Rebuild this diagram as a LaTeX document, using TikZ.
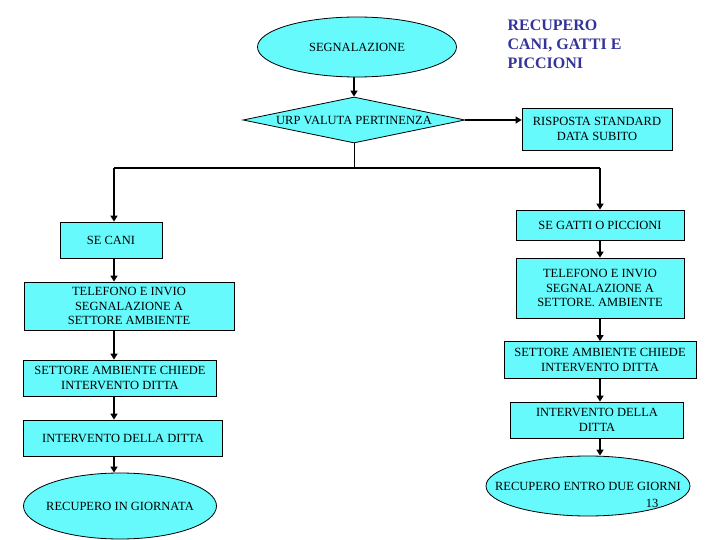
\documentclass[tikz,border=0pt]{standalone}
\usepackage{fontspec}
\setmainfont{Liberation Serif}
\usetikzlibrary{shapes.geometric,arrows.meta}
\definecolor{boxcyan}{RGB}{102,250,252}
\definecolor{titleblue}{RGB}{51,51,153}
\tikzset{
  txt/.style={align=center, font=\fontsize{12.5}{14.5}\selectfont},
  base/.style={draw=black, line width=0.8pt, fill=boxcyan, inner sep=0pt, txt},
  proc/.style={base, rectangle},
  term/.style={base, ellipse},
  decis/.style={base, diamond},
  flow/.style={line width=2pt, -{Triangle[length=6pt,width=7pt]}},
  trunk/.style={line width=1.4pt},
  thin/.style={line width=1pt},
}
\begin{document}
\begin{tikzpicture}[x=1pt,y=-1pt]
\useasboundingbox (0,0) rectangle (720,540);
\fill[white] (0,0) rectangle (720,540);

% top
\node[term, minimum width=199pt, minimum height=60pt, label={[txt]center:SEGNALAZIONE}] (seg) at (357,47) {};
\node[decis, minimum width=222pt, minimum height=46pt, aspect=4.8] (urp) at (354,120) {URP VALUTA PERTINENZA};
\node[proc, minimum width=150pt, minimum height=42pt] (risp) at (597,129) {RISPOSTA STANDARD\\DATA SUBITO};
\node[anchor=north west, align=left, text=titleblue, font=\fontsize{16}{19}\selectfont\bfseries] (title) at (504,16) {RECUPERO\\CANI, GATTI E\\PICCIONI};

% columns
\coordinate (colL) at (114,0);
\coordinate (colR) at (600,0);
\coordinate (split) at (354,168);

% left column
\node[proc, minimum width=102pt, minimum height=36pt] (secani) at (111,240) {SE CANI};
\node[proc, minimum width=210pt, minimum height=48pt] (telL) at (129,306) {TELEFONO E INVIO\\SEGNALAZIONE A\\SETTORE AMBIENTE};
\node[proc, minimum width=193pt, minimum height=36pt] (setL) at (120,378) {SETTORE AMBIENTE CHIEDE\\INTERVENTO DITTA};
\node[proc, minimum width=199pt, minimum height=36pt] (intL) at (123,438) {INTERVENTO DELLA DITTA};
\node[term, minimum width=193pt, minimum height=66pt, label={[txt]center:RECUPERO IN GIORNATA}] (recL) at (120,506) {};

% right column
\node[proc, minimum width=168pt, minimum height=30pt] (segatti) at (600,225) {SE GATTI O PICCIONI};
\node[proc, minimum width=168pt, minimum height=60pt] (telR) at (600,288) {TELEFONO E INVIO\\SEGNALAZIONE A\\SETTORE. AMBIENTE};
\node[proc, minimum width=192pt, minimum height=37pt] (setR) at (600,360) {SETTORE AMBIENTE CHIEDE\\INTERVENTO DITTA};
\node[proc, minimum width=173pt, minimum height=36pt] (intR) at (597,420) {INTERVENTO DELLA\\DITTA};
\node[term, minimum width=204pt, minimum height=60pt, label={[txt]center:RECUPERO ENTRO DUE GIORNI}] (recR) at (588,486) {};
\node[txt] (pnum) at (652,503) {13};

% connectors top
\draw[flow] (urp.north |- seg.south) -- (urp.north);
\draw[flow] (urp.east) -- (urp.east -| risp.west);
\draw[thin] (urp.south) -- (split);
\draw[trunk] (colL |- split) -- (colR |- split);

% left flow
\draw[flow] (colL |- split) -- (colL |- secani.north);
\draw[flow] (colL |- secani.south) -- (colL |- telL.north);
\draw[flow] (colL |- telL.south) -- (colL |- setL.north);
\draw[flow] (colL |- setL.south) -- (colL |- intL.north);
\draw[flow] (colL |- intL.south) -- (colL |- recL.north);

% right flow
\draw[flow] (colR |- split) -- (colR |- segatti.north);
\draw[flow] (colR |- segatti.south) -- (colR |- telR.north);
\draw[flow] (colR |- telR.south) -- (colR |- setR.north);
\draw[flow] (colR |- setR.south) -- (colR |- intR.north);
\draw[flow] (colR |- intR.south) -- (colR |- recR.north);
\end{tikzpicture}
\end{document}
